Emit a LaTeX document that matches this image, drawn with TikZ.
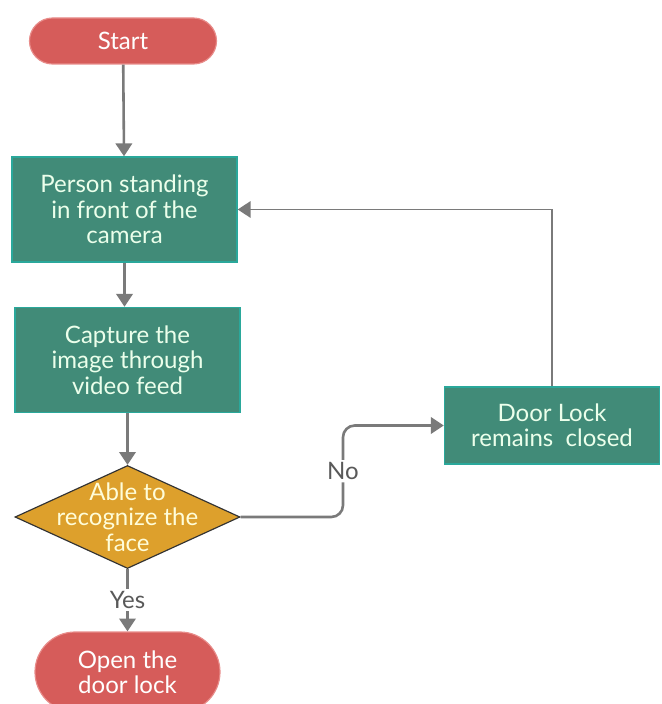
\documentclass[tikz,border=0pt]{standalone}
\usepackage{xcolor}
\usepackage{fontspec}
\setmainfont{Lato}
\usepackage{tikz}
\usetikzlibrary{arrows.meta,shapes.geometric}

\definecolor{termred}{HTML}{D65C5A}
\definecolor{termedge}{HTML}{E88C8A}
\definecolor{procteal}{HTML}{418B78}
\definecolor{procedge}{HTML}{2AA89B}
\definecolor{decgold}{HTML}{DDA02C}
\definecolor{linegray}{HTML}{7A7A7A}

\begin{document}
\begin{tikzpicture}[
		x=0.03cm, y=-0.03cm,
		font=\fontsize{20.5}{21.7}\selectfont,
		terminal/.style={rectangle, rounded corners=0.69cm, draw=termedge, line width=1pt, fill=termred, text=white, minimum width=5.61cm, minimum height=1.38cm, align=center},
		process/.style={rectangle, draw=procedge, line width=1.2pt, fill=procteal, text=white!92!green, minimum width=6.75cm, minimum height=3.15cm, align=center},
		decision/.style={diamond, draw=black!80, line width=1pt, fill=decgold, minimum width=6.75cm, minimum height=3.09cm, inner sep=0pt},
		arrow/.style={-{Triangle[width=14pt,length=11pt]}, draw=linegray, line width=2.2pt},
		tag/.style={fill=white, text=black!65, inner sep=2pt}
	]
		\useasboundingbox (0,0) rectangle (661,704);
		
		% Main column
		\node[terminal] (start) at (123,41) {Start};
		\node[process] (person) at (124.5,209.5) {Person standing\\in front of the\\camera};
		\node[process] (capture) at (127.5,360) {Capture the\\image through\\video feed};
		\node[decision] (face) at (127.5,517) {};
		\node[align=center, text=white!85!yellow] (facetext) at (127.5,517) {Able to\\recognize the\\face};
		\node[terminal, minimum width=5.55cm, minimum height=2.4cm, rounded corners=1.2cm] (open) at (127.5,672) {Open the\\door lock};
		
		% Side branch
		\node[process, minimum width=6.45cm, minimum height=2.31cm] (closed) at (552,425.5) {Door Lock\\remains~ closed};
		\coordinate (nobend) at (343,425.5);
		
		% Arrows
		\draw[arrow] (start) -- (person);
		\draw[arrow] (person) -- (person|-capture.north);
		\draw[arrow] (capture) -- (face);
		\draw[arrow] (face) -- node[tag] {Yes} (open);
		\draw[arrow, rounded corners=10pt] (face.east) -| node[tag, pos=0.75] {No} (nobend) -- (closed.west);
		\draw[arrow, line width=1.6pt] (closed.north) |- (person.east);
	\end{tikzpicture}
\end{document}
